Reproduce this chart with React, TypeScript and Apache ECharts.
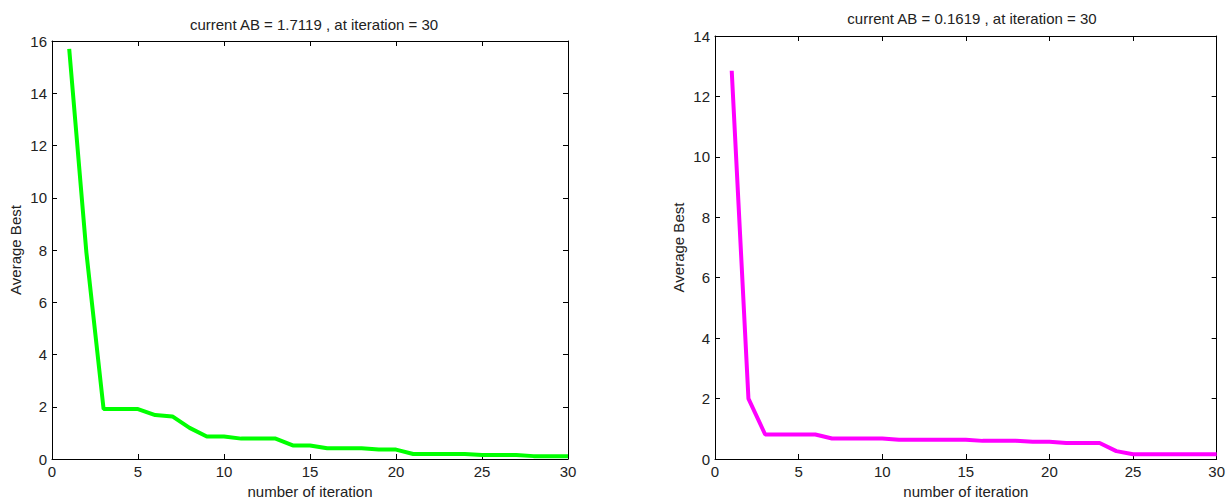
import React, { useEffect, useRef } from "react";
import * as echarts from "echarts";

const iterations = Array.from({ length: 30 }, (_, i) => i + 1);
const leftValues = [15.7, 7.9, 1.91, 1.91, 1.91, 1.68, 1.63, 1.19, 0.86, 0.86, 0.78, 0.78, 0.78, 0.52, 0.52, 0.41, 0.41, 0.41, 0.36, 0.36, 0.19, 0.19, 0.19, 0.19, 0.15, 0.15, 0.15, 0.11, 0.11, 0.11];
const rightValues = [12.85, 2.0, 0.81, 0.81, 0.81, 0.81, 0.68, 0.68, 0.68, 0.68, 0.64, 0.64, 0.64, 0.64, 0.64, 0.6, 0.6, 0.6, 0.57, 0.57, 0.53, 0.53, 0.53, 0.26, 0.16, 0.16, 0.16, 0.16, 0.16, 0.16];
const leftTitle = "current AB = 1.7119 , at iteration = 30";
const rightTitle = "current AB = 0.1619 , at iteration = 30";
const xName = "number of iteration";
const yName = "Average Best";

const FONT = "Liberation Sans, Arial, Helvetica, sans-serif";
const TXT = "#222";
const FS = 15;

export default function App() {
  const ref = useRef<HTMLDivElement>(null);
  useEffect(() => {
    document.body.style.margin = "0";
    const chart = echarts.init(ref.current!, undefined, { renderer: "svg" });
    const axisLine = { show: true, onZero: false, lineStyle: { color: "#000", width: 1 } };
    const tick = { show: true, inside: true, length: 5, lineStyle: { color: "#000" } };
    const label = { color: TXT, fontSize: FS, fontFamily: FONT };
    const nameStyle = { color: TXT, fontSize: FS, fontFamily: FONT };
    const mkX = (g: number) => [
      {
        type: "value", gridIndex: g, min: 0, max: 30, interval: 5, position: "bottom",
        axisLine, axisTick: tick, axisLabel: { ...label, margin: 5 }, splitLine: { show: false },
        name: xName, nameLocation: "middle", nameGap: 25, nameTextStyle: nameStyle,
      },
      {
        type: "value", gridIndex: g, min: 0, max: 30, interval: 5, position: "top",
        axisLine, axisTick: tick, axisLabel: { show: false }, splitLine: { show: false },
      },
    ];
    const mkY = (g: number, max: number) => [
      {
        type: "value", gridIndex: g, min: 0, max, interval: 2, position: "left",
        axisLine, axisTick: tick, axisLabel: { ...label, margin: 5 }, splitLine: { show: false },
        name: yName, nameLocation: "middle", nameGap: 29, nameTextStyle: nameStyle,
      },
      {
        type: "value", gridIndex: g, min: 0, max, interval: 2, position: "right",
        axisLine, axisTick: tick, axisLabel: { show: false }, splitLine: { show: false },
      },
    ];
    chart.setOption({
      animation: false,
      backgroundColor: "#fff",
      title: [
        { text: leftTitle, left: 309, top: 12, textAlign: "center", textStyle: { ...nameStyle, fontWeight: "normal" } },
        { text: rightTitle, left: 967, top: 6, textAlign: "center", textStyle: { ...nameStyle, fontWeight: "normal" } },
      ],
      grid: [
        { left: 52, right: 660, top: 41, bottom: 43 },
        { left: 715, right: 9, top: 36, bottom: 43 },
      ],
      xAxis: [...mkX(0), ...mkX(1)],
      yAxis: [...mkY(0, 16), ...mkY(1, 14)],
      series: [
        {
          type: "line", xAxisIndex: 0, yAxisIndex: 0, showSymbol: false,
          data: iterations.map((x, i) => [x, leftValues[i]]),
          lineStyle: { color: "#00ff00", width: 4 }, itemStyle: { color: "#00ff00" },
        },
        {
          type: "line", xAxisIndex: 2, yAxisIndex: 2, showSymbol: false,
          data: iterations.map((x, i) => [x, rightValues[i]]),
          lineStyle: { color: "#ff00ff", width: 4 }, itemStyle: { color: "#ff00ff" },
        },
      ],
    });
    return () => chart.dispose();
  }, []);
  return <div ref={ref} style={{ width: 1228, height: 504 }} />;
}
